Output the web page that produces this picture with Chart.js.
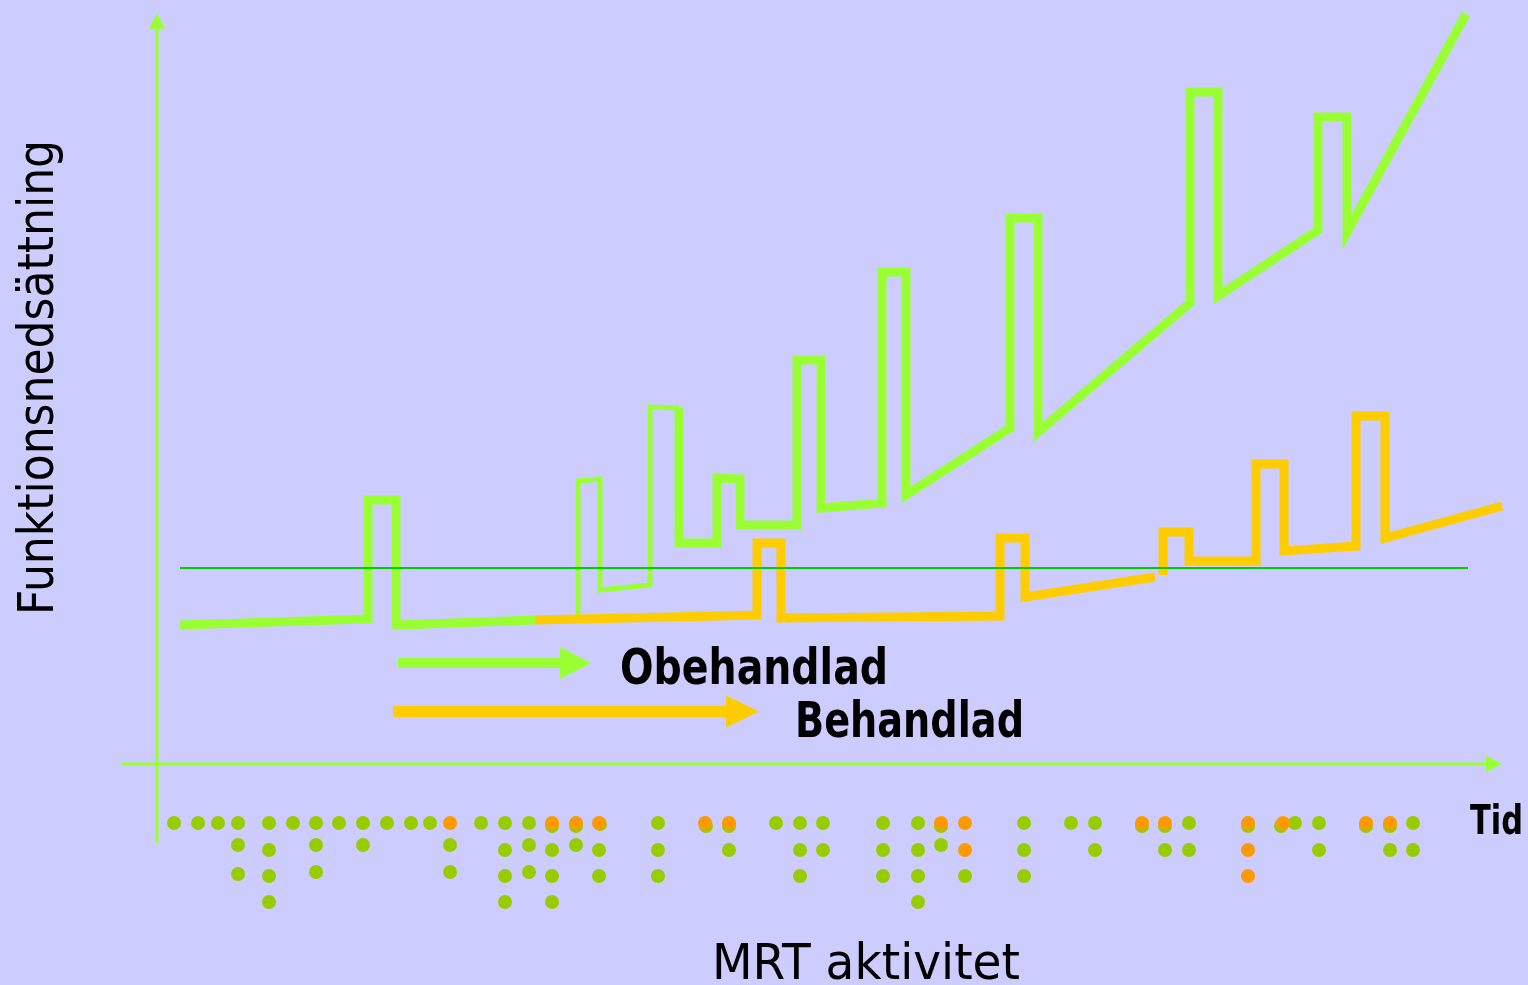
<!DOCTYPE html>
<html>
<head>
<meta charset="utf-8">
<script src="https://cdn.jsdelivr.net/npm/chart.js@4.4.0/dist/chart.umd.min.js"></script>
<style>
  html, body { margin: 0; padding: 0; background: #ccccff; }
  #wrap { width: 1528px; height: 985px; }
</style>
</head>
<body>
<div id="wrap"><canvas id="chart"></canvas></div>
<script>
// x = tid, y = funktionsnedsättning (godtyckliga enheter)
const obehandladStart = [
  [2.3, 14.0], [21.1, 14.6], [21.1, 26.5], [23.9, 26.5], [23.9, 14.0], [37.8, 14.5]
];
const obehandladSkov = [
  [42.1, 14.8], [42.1, 28.4], [44.3, 28.6], [44.3, 17.5], [49.3, 18.0],
  [49.3, 35.8], [52.2, 35.7]
];
const obehandladResten = [
  [52.2, 35.7], [52.2, 22.2], [56.0, 22.2], [56.0, 28.7], [58.3, 28.6],
  [58.3, 24.0], [64.0, 24.0], [64.0, 40.5], [66.4, 40.5], [66.4, 25.7],
  [72.5, 26.2], [72.5, 49.3], [74.9, 49.3], [74.9, 27.0], [85.3, 33.7],
  [85.3, 54.7], [88.1, 54.7], [88.1, 33.3], [103.3, 46.2], [103.3, 67.3],
  [106.1, 67.3], [106.1, 46.9], [116.1, 53.5], [116.1, 64.8], [119.0, 64.8],
  [119.0, 53.3], [130.9, 75.1]
];
const behandlad = [
  [37.8, 14.5], [60.0, 15.0], [60.0, 22.2], [62.4, 22.2], [62.4, 14.7],
  [84.3, 14.9], [84.3, 22.7], [86.8, 22.7], [86.8, 16.8], [99.8, 18.8]
];
const behandladSlut = [
  [100.6, 19.0], [100.6, 23.3], [103.2, 23.3], [103.2, 20.4], [109.9, 20.4],
  [109.9, 30.1], [112.7, 30.1], [112.7, 21.4], [119.9, 21.9], [119.9, 34.9],
  [122.8, 34.9], [122.8, 22.7], [134.5, 25.9]
];
const troskel = [[2.3, 19.7], [131.1, 19.7]];

// MRT-aktivitet (prickar under tidsaxeln)
const mrtGron = [
  [1.7, -5.8], [4.1, -5.8], [6.1, -5.8],
  [8.1, -5.8], [8.1, -8.0], [8.1, -10.9],
  [11.2, -5.8], [11.2, -8.5], [11.2, -11.1], [11.2, -13.7],
  [13.6, -5.8],
  [15.9, -5.8], [15.9, -8.0], [15.9, -10.7],
  [18.2, -5.8],
  [20.6, -5.8], [20.6, -8.0],
  [23.0, -5.8], [25.4, -5.8], [27.3, -5.8],
  [29.3, -8.0], [29.3, -10.7],
  [32.4, -5.8],
  [34.8, -5.8], [34.8, -8.5], [34.8, -11.1], [34.8, -13.7],
  [37.2, -5.8], [37.2, -8.0], [37.2, -10.7],
  [39.5, -6.1], [39.5, -8.5], [39.5, -11.1], [39.5, -13.7],
  [41.9, -6.1], [41.9, -8.0],
  [44.3, -5.9], [44.2, -8.5], [44.2, -11.1],
  [50.1, -5.8], [50.1, -8.5], [50.1, -11.1],
  [54.9, -6.1],
  [57.2, -6.1], [57.2, -8.5],
  [61.9, -5.8],
  [64.3, -5.8], [64.3, -8.5], [64.3, -11.1],
  [66.6, -5.8], [66.6, -8.5],
  [72.6, -5.8], [72.6, -8.5], [72.6, -11.1],
  [76.1, -5.8], [76.1, -8.5], [76.1, -11.1], [76.1, -13.7],
  [78.4, -6.1], [78.4, -8.0],
  [80.8, -11.1],
  [86.7, -5.8], [86.7, -8.5], [86.7, -11.1],
  [91.4, -5.8],
  [93.8, -5.8], [93.8, -8.5],
  [98.5, -6.1],
  [100.8, -6.1], [100.8, -8.5],
  [103.2, -5.8], [103.2, -8.5],
  [109.1, -6.1],
  [112.4, -6.1],
  [113.8, -5.8],
  [116.2, -5.8], [116.2, -8.5],
  [120.9, -6.1],
  [123.3, -6.1], [123.3, -8.5],
  [125.6, -5.8], [125.6, -8.5]
];
const mrtOrange = [
  [29.3, -5.8], [39.5, -5.8], [41.9, -5.8], [44.2, -5.8],
  [54.8, -5.8], [57.2, -5.8], [78.4, -5.8], [80.8, -5.8], [80.8, -8.5],
  [98.5, -5.8], [100.8, -5.8],
  [109.1, -5.8], [109.1, -8.5], [109.1, -11.1],
  [112.6, -5.8], [120.9, -5.8], [123.3, -5.8]
];

const GREEN = '#99ff33';
const ORANGE = '#ffcc00';
const FONT = '"Comic Sans MS", "DejaVu Sans", sans-serif';

const pts = arr => arr.map(p => ({ x: p[0], y: p[1] }));

function lineSet(data, color, width) {
  return {
    data: pts(data),
    showLine: true,
    borderColor: color,
    borderWidth: width,
    borderJoinStyle: 'miter',
    borderCapStyle: 'butt',
    pointRadius: 0,
    fill: false
  };
}

function dotSet(data, color) {
  return {
    data: pts(data),
    showLine: false,
    pointRadius: 7,
    pointBorderWidth: 0,
    backgroundColor: color,
    pointBackgroundColor: color
  };
}

function arrow(ctx, x1, y, x2, tip, thick, half, color) {
  ctx.fillStyle = color;
  ctx.fillRect(x1, y - thick / 2, x2 - x1, thick);
  ctx.beginPath();
  ctx.moveTo(x2, y - half);
  ctx.lineTo(tip, y);
  ctx.lineTo(x2, y + half);
  ctx.closePath();
  ctx.fill();
}

function label(ctx, text, x, y, width, size, weight, rotate) {
  ctx.save();
  ctx.font = `${weight} ${size}px ${FONT}`;
  ctx.fillStyle = '#000';
  ctx.textBaseline = 'alphabetic';
  ctx.textAlign = 'left';
  const w = ctx.measureText(text).width;
  ctx.translate(x, y);
  if (rotate) ctx.rotate(-Math.PI / 2);
  ctx.scale(width / w, 1);
  ctx.fillText(text, 0, 0);
  ctx.restore();
}

const decor = {
  id: 'decor',
  beforeDraw(chart) {
    const ctx = chart.ctx;
    ctx.save();
    ctx.fillStyle = '#ccccff';
    ctx.fillRect(0, 0, chart.width, chart.height);
    ctx.restore();
  },
  beforeDatasetsDraw(chart) {
    const { ctx, scales: { x, y } } = chart;
    const X = v => x.getPixelForValue(v);
    const Y = v => y.getPixelForValue(v);
    ctx.save();
    ctx.fillStyle = GREEN;
    // y-axel
    ctx.fillRect(X(0) - 1.5, Y(73.6), 3, Y(-7.8) - Y(73.6));
    ctx.beginPath();
    ctx.moveTo(X(-0.8), Y(73.6));
    ctx.lineTo(X(0), Y(75.2));
    ctx.lineTo(X(0.8), Y(73.6));
    ctx.closePath();
    ctx.fill();
    // x-axel (tid)
    ctx.fillRect(X(-3.5), Y(0.1) - 1.5, X(132.9) - X(-3.5), 3);
    ctx.beginPath();
    ctx.moveTo(X(132.9), Y(0.9));
    ctx.lineTo(X(134.5), Y(0.1));
    ctx.lineTo(X(132.9), Y(-0.7));
    ctx.closePath();
    ctx.fill();
    ctx.restore();
  },
  afterDraw(chart) {
    const { ctx, scales: { x, y } } = chart;
    const X = v => x.getPixelForValue(v);
    const Y = v => y.getPixelForValue(v);
    ctx.save();
    arrow(ctx, X(24.1), Y(10.2), X(40.3), X(43.4), 10, 16, GREEN);
    arrow(ctx, X(23.6), Y(5.35), X(56.9), X(60.2), 11, 16, ORANGE);
    ctx.restore();
    label(ctx, 'Obehandlad', X(46.3), Y(8.1), 268, 49, 'bold', false);
    label(ctx, 'Behandlad', X(63.8), Y(2.8), 229, 50, 'bold', false);
    label(ctx, 'Tid', X(131.3), Y(-6.9), 53, 41, 'bold', false);
    label(ctx, 'MRT aktivitet', X(55.5), Y(-21.4), 308, 50, 'normal', false);
    label(ctx, 'Funktionsnedsättning', X(-10.4), Y(15.0), 475, 50, 'normal', true);
  }
};

new Chart(document.getElementById('chart'), {
  type: 'scatter',
  data: {
    datasets: [
      lineSet(troskel, '#00cc00', 2),
      dotSet(mrtOrange, '#ff9900'),
      dotSet(mrtGron, '#99cc00'),
      lineSet(behandlad, ORANGE, 9),
      lineSet(behandladSlut, ORANGE, 9),
      lineSet(obehandladSkov, GREEN, 5),
      lineSet(obehandladStart, GREEN, 9),
      lineSet(obehandladResten, GREEN, 9)
    ]
  },
  options: {
    responsive: true,
    maintainAspectRatio: false,
    animation: false,
    layout: { padding: 0, autoPadding: false },
    plugins: { legend: { display: false }, tooltip: { enabled: false } },
    scales: {
      x: { type: 'linear', min: -15.7, max: 137.1, display: false },
      y: { type: 'linear', min: -22, max: 76.5, display: false }
    }
  },
  plugins: [decor]
});
</script>
</body>
</html>
